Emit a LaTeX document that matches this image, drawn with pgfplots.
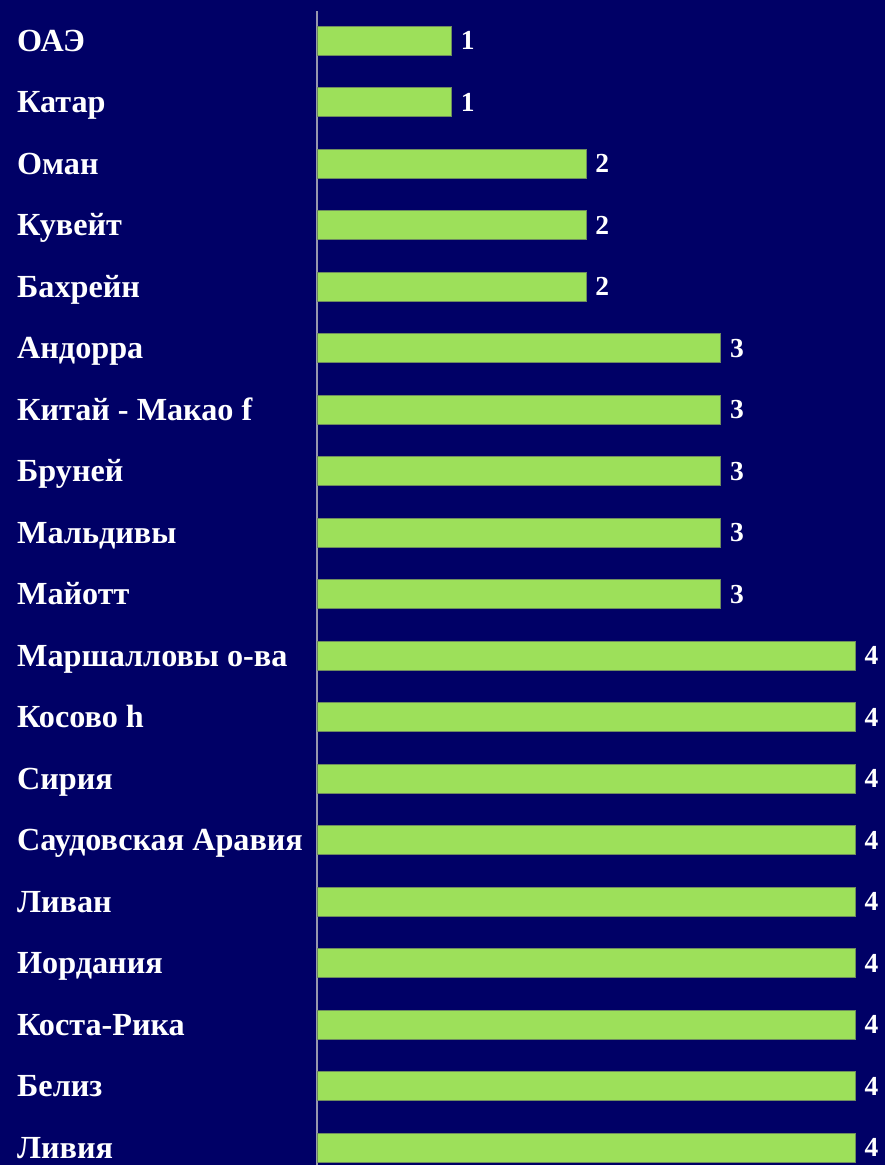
\documentclass[border=0pt]{standalone}
\usepackage{fontspec}
\setmainfont{Liberation Serif}
\usepackage{pgfplots}
\pgfplotsset{compat=1.18}
\definecolor{bgnavy}{RGB}{0,0,102}
\definecolor{bargreen}{RGB}{157,224,90}
\definecolor{baredge}{RGB}{110,140,95}
\definecolor{axisgrey}{RGB}{150,150,175}
\begin{document}
\begin{tikzpicture}
\fill[bgnavy] (-317pt,0pt) rectangle (568pt,1165pt);
\begin{axis}[
  at={(0pt,0pt)}, anchor=south west,
  scale only axis,
  width=538.4pt, height=1154pt,
  xmin=0, xmax=4,
  ymin=-0.48, ymax=18.28,
  y dir=reverse,
  xbar, bar width=29pt,
  hide x axis,
  axis y line*=left,
  y axis line style={axisgrey, line width=1.5pt, -},
  major tick length=0pt,
  ytick={0,...,18},
  yticklabels={ОАЭ,Катар,Оман,Кувейт,Бахрейн,Андорра,Китай - Макао f,Бруней,Мальдивы,Майотт,Маршалловы о-ва,Косово h,Сирия,Саудовская Аравия,Ливан,Иордания,Коста-Рика,Белиз,Ливия},
  yticklabel style={anchor=base west, xshift=-300pt, yshift=-10.5pt, inner sep=0pt, text=white, font=\fontsize{32.2}{34}\selectfont\bfseries},
  nodes near coords,
  nodes near coords style={anchor=base west, inner sep=0pt, xshift=9pt, yshift=-9pt, text=white, font=\fontsize{27.5}{30}\selectfont\bfseries, /pgf/number format/assume math mode=true},
  clip=false,
]
\addplot[fill=bargreen, draw=baredge, line width=0.6pt] coordinates {
(1,0) (1,1) (2,2) (2,3) (2,4) (3,5) (3,6) (3,7) (3,8) (3,9)
(4,10) (4,11) (4,12) (4,13) (4,14) (4,15) (4,16) (4,17) (4,18)
};
\end{axis}
\pgfresetboundingbox
\path[use as bounding box] (-317pt,0pt) rectangle (568pt,1165pt);
\end{tikzpicture}
\end{document}
